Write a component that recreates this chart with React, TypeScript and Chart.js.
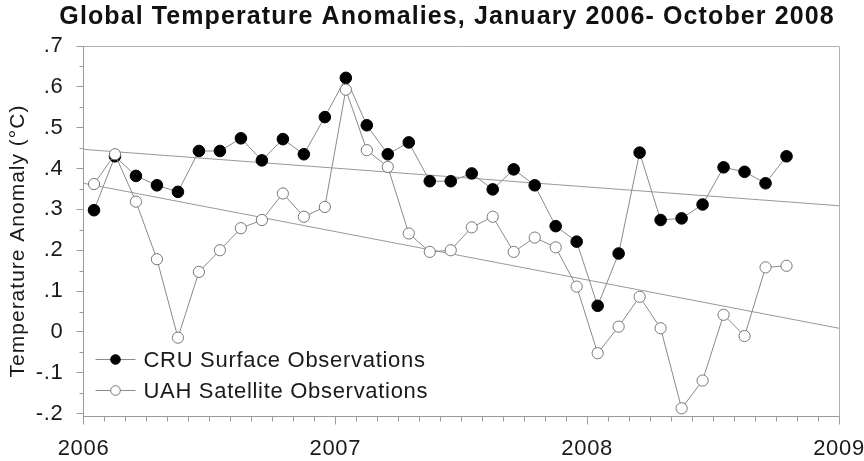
import React, { useEffect, useRef } from 'react';
import { Chart, registerables } from 'chart.js';

Chart.register(...registerables);

// ---------------- data ----------------
const months = [
  '2006-01', '2006-02', '2006-03', '2006-04', '2006-05', '2006-06', '2006-07', '2006-08', '2006-09', '2006-10', '2006-11', '2006-12',
  '2007-01', '2007-02', '2007-03', '2007-04', '2007-05', '2007-06', '2007-07', '2007-08', '2007-09', '2007-10', '2007-11', '2007-12',
  '2008-01', '2008-02', '2008-03', '2008-04', '2008-05', '2008-06', '2008-07', '2008-08', '2008-09', '2008-10',
];

const cruValues = [
  0.298, 0.43, 0.382, 0.359, 0.343, 0.443, 0.443, 0.474, 0.42, 0.472, 0.435, 0.526,
  0.622, 0.506, 0.435, 0.464, 0.369, 0.369, 0.388, 0.349, 0.398, 0.359, 0.259, 0.221,
  0.064, 0.192, 0.439, 0.274, 0.278, 0.312, 0.403, 0.392, 0.364, 0.43,
];

const uahValues = [
  0.362, 0.435, 0.319, 0.178, -0.014, 0.147, 0.2, 0.254, 0.274, 0.339, 0.282, 0.306,
  0.593, 0.445, 0.404, 0.241, 0.196, 0.2, 0.256, 0.282, 0.196, 0.231, 0.207, 0.111,
  -0.052, 0.013, 0.086, 0.009, -0.187, -0.119, 0.042, -0.01, 0.158, 0.162,
];

const trendYears = [2006, 2009];
const cruTrend = [0.447, 0.309];
const uahTrend = [0.364, 0.009];

const xTickValues = [2006, 2007, 2008, 2009];
const xTickLabels = ['2006', '2007', '2008', '2009'];
const yTickValues = [-0.2, -0.1, 0, 0.1, 0.2, 0.3, 0.4, 0.5, 0.6, 0.7];
const yTickLabels = ['-.2', '-.1', '0', '.1', '.2', '.3', '.4', '.5', '.6', '.7'];

const titleText = 'Global Temperature Anomalies, January 2006- October 2008';
const yAxisTitle = 'Temperature Anomaly (\u00B0C)';
const seriesNames = ['CRU Surface Observations', 'UAH Satellite Observations'];

// ---------------- helpers ----------------
const FONT = "'Liberation Sans', Arial, Helvetica, sans-serif";
const TEXT_COLOR = '#1a1a1a';
const AXIS_COLOR = '#9a9a9a';
const SPACING = '0.7px';

function monthToX(m: string): number {
  const [y, mo] = m.split('-').map(Number);
  return y + (mo - 0.5) / 12;
}

const cruPoints = months.map((m, i) => ({ x: monthToX(m), y: cruValues[i] }));
const uahPoints = months.map((m, i) => ({ x: monthToX(m), y: uahValues[i] }));
const cruTrendPoints = trendYears.map((x, i) => ({ x, y: cruTrend[i] }));
const uahTrendPoints = trendYears.map((x, i) => ({ x, y: uahTrend[i] }));

const decorPlugin = {
  id: 'decor',
  beforeLayout(chart: any) {
    chart.ctx.letterSpacing = SPACING;
  },
  beforeDraw(chart: any) {
    chart.ctx.letterSpacing = SPACING;
  },
  afterDraw(chart: any) {
    const ctx = chart.ctx as CanvasRenderingContext2D;
    const { left, right, top, bottom } = chart.chartArea;
    const xs = chart.scales.x;
    const ys = chart.scales.y;
    ctx.save();
    // frame top/right
    ctx.strokeStyle = '#b0b0b0';
    ctx.lineWidth = 1;
    ctx.beginPath();
    ctx.moveTo(left, Math.round(top) + 0.5);
    ctx.lineTo(Math.round(right) + 0.5, Math.round(top) + 0.5);
    ctx.lineTo(Math.round(right) + 0.5, bottom);
    ctx.stroke();
    // minor ticks
    ctx.strokeStyle = AXIS_COLOR;
    ctx.beginPath();
    for (let k = 1; k < 36; k++) {
      if (k % 12 === 0) continue;
      const px = Math.round(xs.getPixelForValue(2006 + k / 12)) + 0.5;
      ctx.moveTo(px, bottom);
      ctx.lineTo(px, bottom + 5);
    }
    for (let k = 0; k < yTickValues.length - 1; k++) {
      const v = (yTickValues[k] + yTickValues[k + 1]) / 2;
      const py = Math.round(ys.getPixelForValue(v)) + 0.5;
      ctx.moveTo(left - 4, py);
      ctx.lineTo(left, py);
    }
    ctx.stroke();

    // legend
    const rowY = [bottom - 57, bottom - 26];
    seriesNames.forEach((name: string, i: number) => {
      const ds: any = chart.data.datasets.find((d: any) => d.label === name);
      const y = rowY[i];
      ctx.strokeStyle = ds.borderColor;
      ctx.lineWidth = 1;
      ctx.beginPath();
      ctx.moveTo(left + 12, y);
      ctx.lineTo(left + 52, y);
      ctx.stroke();
      ctx.beginPath();
      ctx.arc(left + 32, y, 4.8, 0, Math.PI * 2);
      ctx.fillStyle = ds.pointBackgroundColor;
      ctx.fill();
      ctx.strokeStyle = ds.pointBorderColor;
      ctx.stroke();
      ctx.fillStyle = TEXT_COLOR;
      ctx.font = `22px ${FONT}`;
      (ctx as any).letterSpacing = SPACING;
      ctx.textAlign = 'left';
      ctx.textBaseline = 'middle';
      ctx.fillText(name, left + 60, y + 1);
    });

    // y axis title
    ctx.save();
    ctx.translate(18, 241);
    ctx.rotate(-Math.PI / 2);
    ctx.font = `21px ${FONT}`;
    (ctx as any).letterSpacing = '1px';
    ctx.fillStyle = TEXT_COLOR;
    ctx.textAlign = 'center';
    ctx.textBaseline = 'middle';
    ctx.fillText(yAxisTitle, 0, 0);
    ctx.restore();

    // title
    ctx.font = `bold 25px ${FONT}`;
    (ctx as any).letterSpacing = '1.1px';
    ctx.fillStyle = '#111';
    ctx.textAlign = 'center';
    ctx.textBaseline = 'middle';
    ctx.fillText(titleText, 447, 17);
    ctx.restore();
  },
};

export default function App() {
  const canvasRef = useRef<HTMLCanvasElement | null>(null);

  useEffect(() => {
    const canvas = canvasRef.current;
    if (!canvas) return;
    const chart = new Chart(canvas, {
      type: 'scatter',
      data: {
        datasets: [
          {
            label: seriesNames[1],
            data: uahPoints,
            showLine: true,
            borderColor: '#8a8a8a',
            borderWidth: 1,
            pointRadius: 5.6,
            pointBackgroundColor: '#ffffff',
            pointBorderColor: '#777777',
            pointBorderWidth: 1,
            order: 0,
          } as any,
          {
            label: seriesNames[0],
            data: cruPoints,
            showLine: true,
            borderColor: '#8a8a8a',
            borderWidth: 1,
            pointRadius: 5.8,
            pointBackgroundColor: '#000000',
            pointBorderColor: '#000000',
            pointBorderWidth: 1,
            order: 1,
          } as any,
          {
            label: 'CRU trend',
            data: cruTrendPoints,
            showLine: true,
            borderColor: '#999999',
            borderWidth: 1,
            pointRadius: 0,
            order: 2,
          } as any,
          {
            label: 'UAH trend',
            data: uahTrendPoints,
            showLine: true,
            borderColor: '#999999',
            borderWidth: 1,
            pointRadius: 0,
            order: 3,
          } as any,
        ],
      },
      options: {
        animation: false,
        responsive: false,
        devicePixelRatio: 1,
        layout: { padding: { left: 0, right: 25, top: 46, bottom: 0 } },
        plugins: {
          legend: { display: false },
          title: { display: false },
          tooltip: { enabled: false },
        },
        scales: {
          x: {
            type: 'linear',
            min: 2006,
            max: 2009,
            afterBuildTicks: (s: any) => {
              s.ticks = xTickValues.map((v) => ({ value: v }));
            },
            afterFit: (s: any) => {
              s.height = 44.5;
              s.paddingLeft = 0;
              s.paddingRight = 0;
            },
            ticks: {
              autoSkip: false,
              maxRotation: 0,
              padding: 11,
              color: TEXT_COLOR,
              font: { family: FONT, size: 22 },
              callback: (_v: any, i: number) => xTickLabels[i],
            },
            grid: {
              drawOnChartArea: false,
              drawTicks: true,
              tickLength: 8,
              tickColor: AXIS_COLOR,
              color: AXIS_COLOR,
            },
            border: { display: true, color: AXIS_COLOR, width: 1 },
          },
          y: {
            type: 'linear',
            min: -0.207,
            max: 0.7,
            afterBuildTicks: (s: any) => {
              s.ticks = yTickValues.map((v) => ({ value: v }));
            },
            afterFit: (s: any) => {
              s.width = 83.5;
              s.paddingTop = 0;
              s.paddingBottom = 0;
            },
            ticks: {
              autoSkip: false,
              padding: 13,
              color: TEXT_COLOR,
              font: { family: FONT, size: 22 },
              callback: (_v: any, i: number) => yTickLabels[i],
            },
            grid: {
              drawOnChartArea: false,
              drawTicks: true,
              tickLength: 7,
              tickColor: AXIS_COLOR,
              color: AXIS_COLOR,
            },
            border: { display: true, color: AXIS_COLOR, width: 1 },
          },
        },
      } as any,
      plugins: [decorPlugin],
    });
    return () => chart.destroy();
  }, []);

  return (
    <div style={{ position: 'absolute', left: 0, top: 0, width: 864, height: 461, background: '#fff' }}>
      <canvas ref={canvasRef} width={864} height={461} style={{ width: 864, height: 461, display: 'block' }} />
    </div>
  );
}
